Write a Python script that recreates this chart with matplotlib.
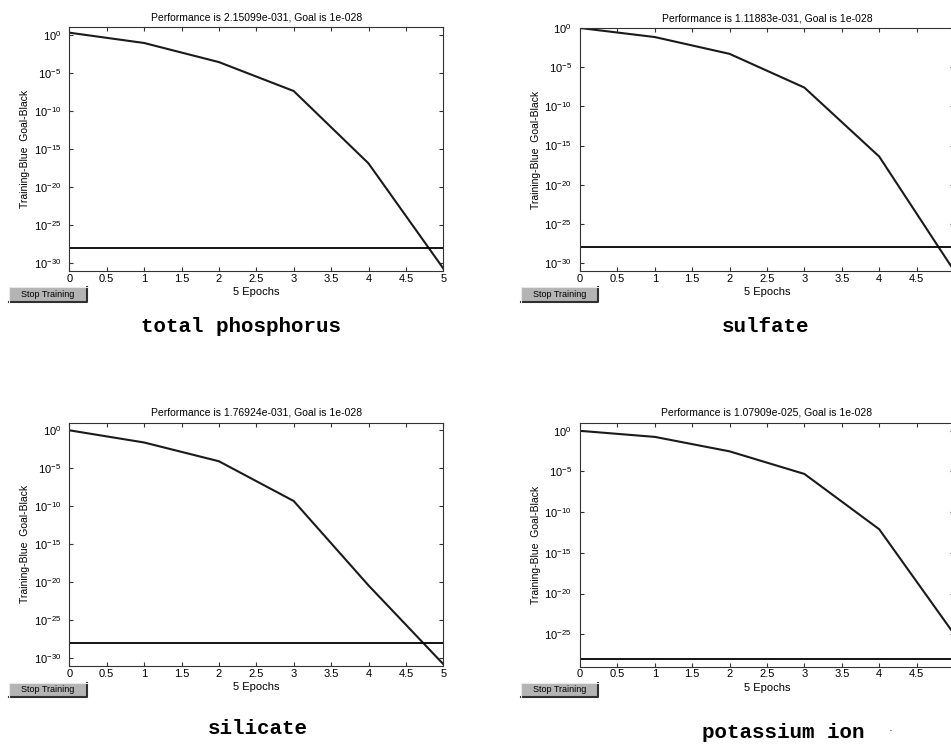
import math
import matplotlib
matplotlib.use("Agg")
import matplotlib.pyplot as plt
from matplotlib.patches import Rectangle
from matplotlib.lines import Line2D

# données (performance par epoch)
epochs = [0, 1, 2, 3, 4, 5]
perf_phosphorus = [1.8, 8e-2, 2.5e-4, 4e-8, 1.3e-17, 2.15099e-31]
perf_sulfate = [1.0, 7e-2, 5e-4, 2.5e-8, 4e-17, 1.11883e-31]
perf_silicate = [1.0, 2.5e-2, 8.5e-5, 5e-10, 4e-21, 1.76924e-31]
perf_potassium = [1.0, 1.8e-1, 3e-3, 5e-6, 8e-13, 1.07909e-25]
goal = 1e-28

titles = [
    "Performance is 2.15099e-031, Goal is 1e-028",
    "Performance is 1.11883e-031, Goal is 1e-028",
    "Performance is 1.76924e-031, Goal is 1e-028",
    "Performance is 1.07909e-025, Goal is 1e-028",
]
captions = ["total phosphorus", "sulfate", "silicate", "potassium ion"]
xticks = [0, 0.5, 1, 1.5, 2, 2.5, 3, 3.5, 4, 4.5, 5]

plt.rcParams['font.family'] = ['Liberation Sans', 'DejaVu Sans']
plt.rcParams['mathtext.fontset'] = 'custom'
plt.rcParams['mathtext.rm'] = 'Liberation Sans'
plt.rcParams['mathtext.default'] = 'regular'
plt.rcParams['axes.unicode_minus'] = False

W, H = 951, 744
fig = plt.figure(figsize=(W / 100, H / 100), dpi=100)


def add_axes_px(left, top, right, bottom):
    return fig.add_axes([left / W, 1 - bottom / H, (right - left) / W, (bottom - top) / H])


def stop_button(x0, y0, x1, y1):
    # bouton "Stop Training" façon MATLAB
    fig.patches.append(Rectangle((x0 / W, 1 - y1 / H), (x1 - x0) / W, (y1 - y0) / H,
                                 transform=fig.transFigure, facecolor='#b4b4b4',
                                 edgecolor='none'))
    fig.lines.append(Line2D([x0 / W, x1 / W, x1 / W], [1 - y1 / H, 1 - y1 / H, 1 - y0 / H],
                            transform=fig.transFigure, color='#303030', lw=1.5))
    fig.lines.append(Line2D([x0 / W, x0 / W, x1 / W], [1 - y1 / H, 1 - y0 / H, 1 - y0 / H],
                            transform=fig.transFigure, color='#e8e8e8', lw=0.8))
    fig.text((x0 + x1) / 2 / W, 1 - (y0 + y1) / 2 / H, "Stop Training",
             ha='center', va='center', fontsize=6.5)


panels = [
    # left, top, right, bottom, ylim, data
    (69.3, 27, 443.3, 271, (1e-31, 1e1), perf_phosphorus),
    (580, 28, 954, 271, (1e-31, 1e0), perf_sulfate),
    (69.3, 422.7, 443.3, 666, (1e-31, 1e1), perf_silicate),
    (580, 422.7, 954, 666.7, (1e-29, 1e1), perf_potassium),
]

for i, (l, t, r, b, ylim, perf) in enumerate(panels):
    ax = add_axes_px(l, t, r, b)
    ax.semilogy(epochs, perf, color='#1a1a1a', lw=1.5)
    ax.axhline(goal, color='black', lw=1.3)
    ax.set_xlim(0, 5)
    ax.set_ylim(*ylim)
    ax.set_xticks(xticks)
    labels = [f"{v:g}" for v in xticks]
    if r > W:
        labels[-1] = ""  # le "5" tombe hors de l'image à droite
    ax.set_xticklabels(labels)
    lo = int(round(math.log10(ylim[0])))
    ax.set_yticks([10.0 ** e for e in range(0, lo, -5)])
    ax.minorticks_off()
    ax.tick_params(direction='in', top=True, right=True, length=3, width=0.8,
                   labelsize=8, color='#333333')
    ax.tick_params(axis='x', pad=2)
    ax.tick_params(axis='y', pad=6)
    for s in ax.spines.values():
        s.set_linewidth(0.8)
        s.set_color('#333333')
    ax.set_title(titles[i], fontsize=7.5, pad=5)
    ax.set_xlabel("5 Epochs", fontsize=8)
    ax.xaxis.label.set_va('center')
    ax.xaxis.set_label_coords(0.5, -21 / (b - t))
    ax.set_ylabel("Training-Blue  Goal-Black", fontsize=7.5)
    ax.yaxis.set_label_coords(-39 / (r - l), 0.5)

stop_button(9, 287, 87, 302)
stop_button(521, 287, 598, 302)
stop_button(9, 683, 87, 697)
stop_button(521, 683, 598, 697)

cap_pos = [(241, 327), (766, 327), (258, 729), (783, 732)]
for (cx, cy), txt in zip(cap_pos, captions):
    fig.text(cx / W, 1 - cy / H, txt, ha='center', va='center',
             fontsize=15, family='Liberation Mono', fontweight='bold')
fig.text(890 / W, 1 - 731 / H, "·", ha='center', va='center', fontsize=8)

fig.savefig("out.png", dpi=100)
